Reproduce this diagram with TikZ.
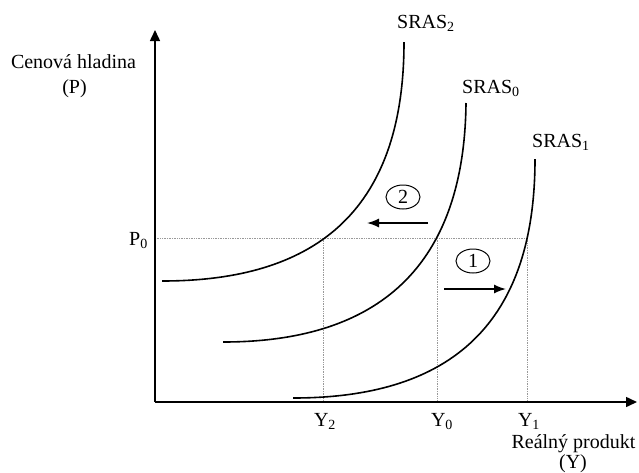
\documentclass[tikz,border=0pt]{standalone}
\usepackage{fontspec}
\setmainfont{Liberation Serif}
\usetikzlibrary{arrows.meta,shapes.geometric}
\tikzset{
  axisline/.style={line width=1.5pt,-{Triangle[length=11pt,width=10pt]}},
  srascurve/.style={line width=1.6pt},
  guideline/.style={line width=0.7pt,gray!80,densely dotted},
  shiftarrow/.style={line width=1.5pt,-{Latex[length=12pt,width=9pt]}},
  lbl/.style={font=\fontsize{20}{24}\selectfont,inner sep=0pt},
  numbox/.style={draw,ellipse,line width=1pt,minimum width=34pt,minimum height=24pt,inner sep=0pt,font=\fontsize{20}{24}\selectfont}
}
\begin{document}
\begin{tikzpicture}[x=1pt,y=-1pt]
\useasboundingbox (0,0) rectangle (639,472);
% key points
\coordinate (O) at (155,402);
\coordinate (ytip) at (155,30);
\coordinate (xtip) at (637,402);
\coordinate (p0) at (155,238);
\coordinate (e2) at (323,238);
\coordinate (e0) at (437,238);
\coordinate (e1) at (527,238);
\coordinate (b2) at (323,402);
\coordinate (b0) at (437,402);
\coordinate (b1) at (527,402);
% guide lines
\draw[guideline] (p0) -- (e1);
\draw[guideline] (e2) -- (b2);
\draw[guideline] (e0) -- (b0);
\draw[guideline] (e1) -- (b1);
% axes
\draw[axisline] (O) -- (ytip);
\draw[axisline] (O) -- (xtip);
% SRAS curves
\draw[srascurve] (162,281) .. controls (300,281) and (404,225) .. (404,42);
\draw[srascurve] (223,342) .. controls (357,342) and (464,286) .. (466,103);
\draw[srascurve] (293,398) .. controls (431,398) and (535,342) .. (535,159);
% labels
\node[lbl,anchor=base] (cen) at (73.5,68) {Cenová hladina};
\node[lbl,anchor=base] (cenp) at (74.5,93) {(P)};
\node[lbl,anchor=base east] (P0) at (148,245) {P\textsubscript{0}};
\node[lbl,anchor=base west] (s2) at (397,28) {SRAS\textsubscript{2}};
\node[lbl,anchor=base west] (s0) at (462,93) {SRAS\textsubscript{0}};
\node[lbl,anchor=base west] (s1) at (532,147) {SRAS\textsubscript{1}};
\node[lbl,anchor=base] (Y2) at (325,426) {Y\textsubscript{2}};
\node[lbl,anchor=base] (Y0) at (442,426) {Y\textsubscript{0}};
\node[lbl,anchor=base] (Y1) at (529,426) {Y\textsubscript{1}};
\node[lbl,anchor=base] (rp) at (573.5,448) {Reálný produkt};
\node[lbl,anchor=base] (rpy) at (573,468) {(Y)};
% shifts
\node[numbox] (n2) at (403,197) {2};
\node[numbox] (n1) at (473,261) {1};
\coordinate (a2s) at (428,223);
\coordinate (a2e) at (367,223);
\coordinate (a1s) at (444,289);
\coordinate (a1e) at (506,289);
\draw[shiftarrow] (a2s) -- (a2e);
\draw[shiftarrow] (a1s) -- (a1e);
\end{tikzpicture}
\end{document}
